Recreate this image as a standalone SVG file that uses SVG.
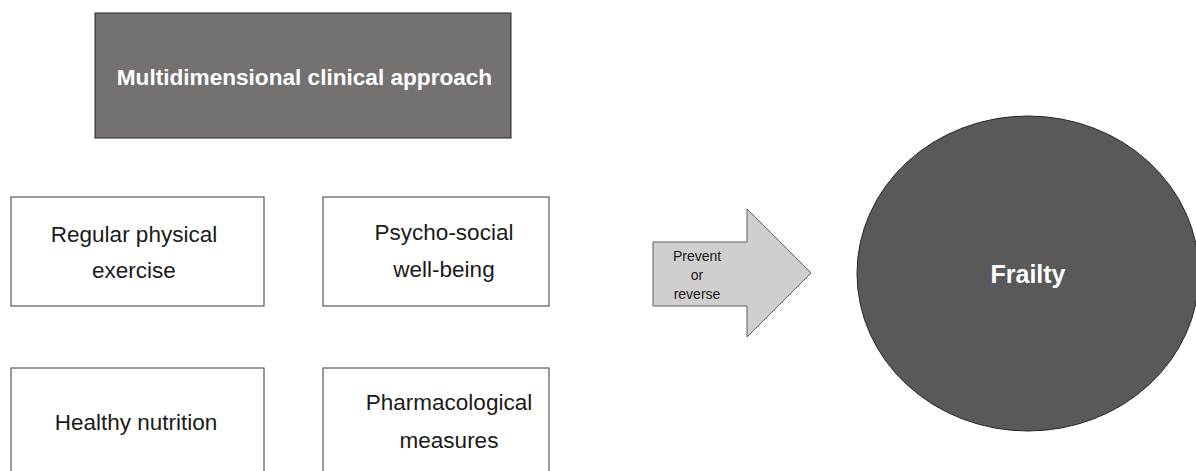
<svg xmlns="http://www.w3.org/2000/svg" width="1196" height="471" viewBox="0 0 1196 471">
<style>
.box{fill:#ffffff;stroke:#3a3a3a;stroke-width:1}
.lbl{font-family:"Liberation Sans",Arial,sans-serif;font-size:22.5px;fill:#1a1a1a;text-anchor:middle}
.wb{font-family:"Liberation Sans",Arial,sans-serif;font-weight:bold;fill:#ffffff;text-anchor:middle}
.sm{font-family:"Liberation Sans",Arial,sans-serif;font-size:14px;fill:#1a1a1a;text-anchor:middle}
</style>
<rect width="1196" height="471" fill="#ffffff"/>
<g id="approach">
<rect x="95" y="13" width="416" height="125" fill="#757170" stroke="#262626" stroke-width="1"/>
<text class="wb" x="304.5" y="85" font-size="22.6">Multidimensional clinical approach</text>
</g>
<g id="exercise">
<rect class="box" x="11" y="197" width="253" height="109"/>
<text class="lbl" x="134" y="242">Regular physical</text>
<text class="lbl" x="134" y="278">exercise</text>
</g>
<g id="psychosocial">
<rect class="box" x="323" y="197" width="226" height="109"/>
<text class="lbl" x="444" y="240">Psycho-social</text>
<text class="lbl" x="444" y="277">well-being</text>
</g>
<g id="nutrition">
<rect class="box" x="11" y="368" width="253" height="120"/>
<text class="lbl" x="136" y="430">Healthy nutrition</text>
</g>
<g id="pharma">
<rect class="box" x="323" y="368" width="226" height="120"/>
<text class="lbl" x="449" y="410">Pharmacological</text>
<text class="lbl" x="449" y="448">measures</text>
</g>
<g id="connectors">
<g id="prevent-arrow">
<polygon points="653,242 747,242 747,209 811,273 747,337 747,306 653,306" fill="#d0cece" stroke="#5f5f5f" stroke-width="1"/>
<text class="sm" x="697" y="261">Prevent</text>
<text class="sm" x="697" y="280">or</text>
<text class="sm" x="697" y="299">reverse</text>
</g>
</g>
<g id="frailty">
<ellipse cx="1028" cy="273.5" rx="171" ry="157.5" fill="#595959" stroke="#262626" stroke-width="1"/>
<text class="wb" x="1028" y="283" font-size="25">Frailty</text>
</g>
</svg>
